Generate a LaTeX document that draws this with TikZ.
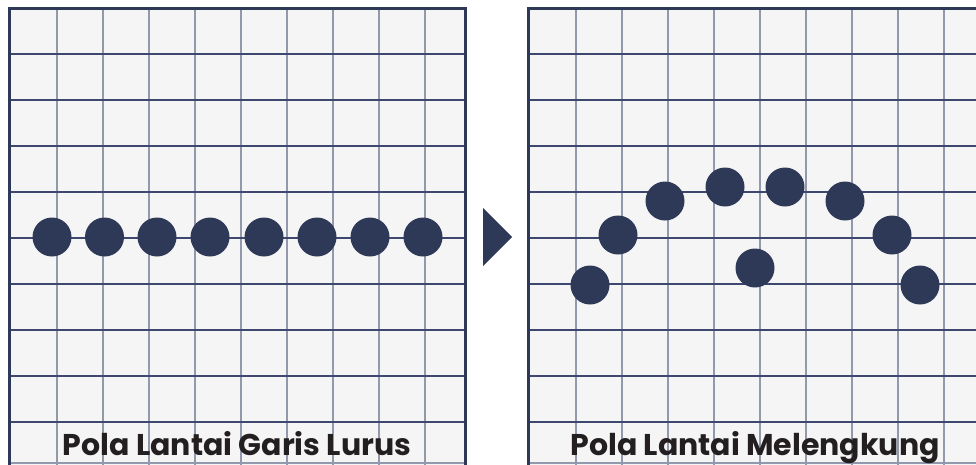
\documentclass[tikz,border=0pt]{standalone}
\usepackage{fontspec}
\setmainfont{Poppins}
\definecolor{navy}{HTML}{2E3958}
\definecolor{paper}{HTML}{F5F5F5}
\definecolor{vline}{HTML}{9299AD}
\definecolor{hline}{HTML}{3D4770}
\definecolor{ink}{HTML}{231F20}
\tikzset{
  dancer/.style={circle, fill=navy, minimum size=39pt, inner sep=0pt},
  vgrid/.style={vline, line width=2pt},
  hgrid/.style={hline, line width=1.1pt},
  frame/.style={navy, line width=3pt},
  caption/.style={font=\bfseries\fontsize{30}{30}\selectfont, text=ink, anchor=base}
}
\begin{document}
\begin{tikzpicture}[x=1pt, y=-1pt]
  \useasboundingbox (0,0) rectangle (976,464);
  % left panel
  \fill[paper] (9,8.5) rectangle (465.5,480);
  \begin{scope}
    \clip (9,8.5) rectangle (465.5,480);
    \foreach \x in {57,103,149,195,241,287,333,379,425} \draw[vgrid] (\x,0) -- (\x,480);
    \foreach \y in {54,100,146,192,238,284,330,376,422} \draw[hgrid] (0,\y) -- (480,\y);
    \draw[vgrid, line width=1.2pt] (0,463) -- (480,463);
  \end{scope}
  \draw[frame] (9,480) -- (9,8.5) -- (465.5,8.5) -- (465.5,480);
  % right panel
  \fill[paper] (528.5,8.5) rectangle (990,480);
  \begin{scope}
    \clip (528.5,8.5) rectangle (990,480);
    \foreach \x in {576,622,668,714,760,806,852,898,944} \draw[vgrid] (\x,0) -- (\x,480);
    \foreach \y in {54,100,146,192,238,284,330,376,422} \draw[hgrid] (520,\y) -- (990,\y);
    \draw[vgrid, line width=1.2pt] (520,463) -- (990,463);
  \end{scope}
  \draw[frame] (528.5,480) -- (528.5,8.5) -- (990,8.5);
  % straight line of dancers
  \foreach \x [count=\i] in {52,104.5,157,210,264,317,370,423}
    \node[dancer] (s\i) at (\x,237) {};
  % curved formation
  \node[dancer] (c1) at (590,285) {};
  \node[dancer] (c2) at (618,235) {};
  \node[dancer] (c3) at (665,201) {};
  \node[dancer] (c4) at (725,187) {};
  \node[dancer] (c5) at (785,187) {};
  \node[dancer] (c6) at (845,201) {};
  \node[dancer] (c7) at (892,235) {};
  \node[dancer] (c8) at (920,285) {};
  \node[dancer] (c9) at (755,268) {};
  % transition arrow
  \fill[navy] (483,208) -- (512,237) -- (483,266) -- cycle;
  % captions
  \node[caption] (capL) at (237,455) {Pola Lantai Garis Lurus};
  \node[caption] (capR) at (755,455) {Pola Lantai Melengkung};
\end{tikzpicture}
\end{document}
